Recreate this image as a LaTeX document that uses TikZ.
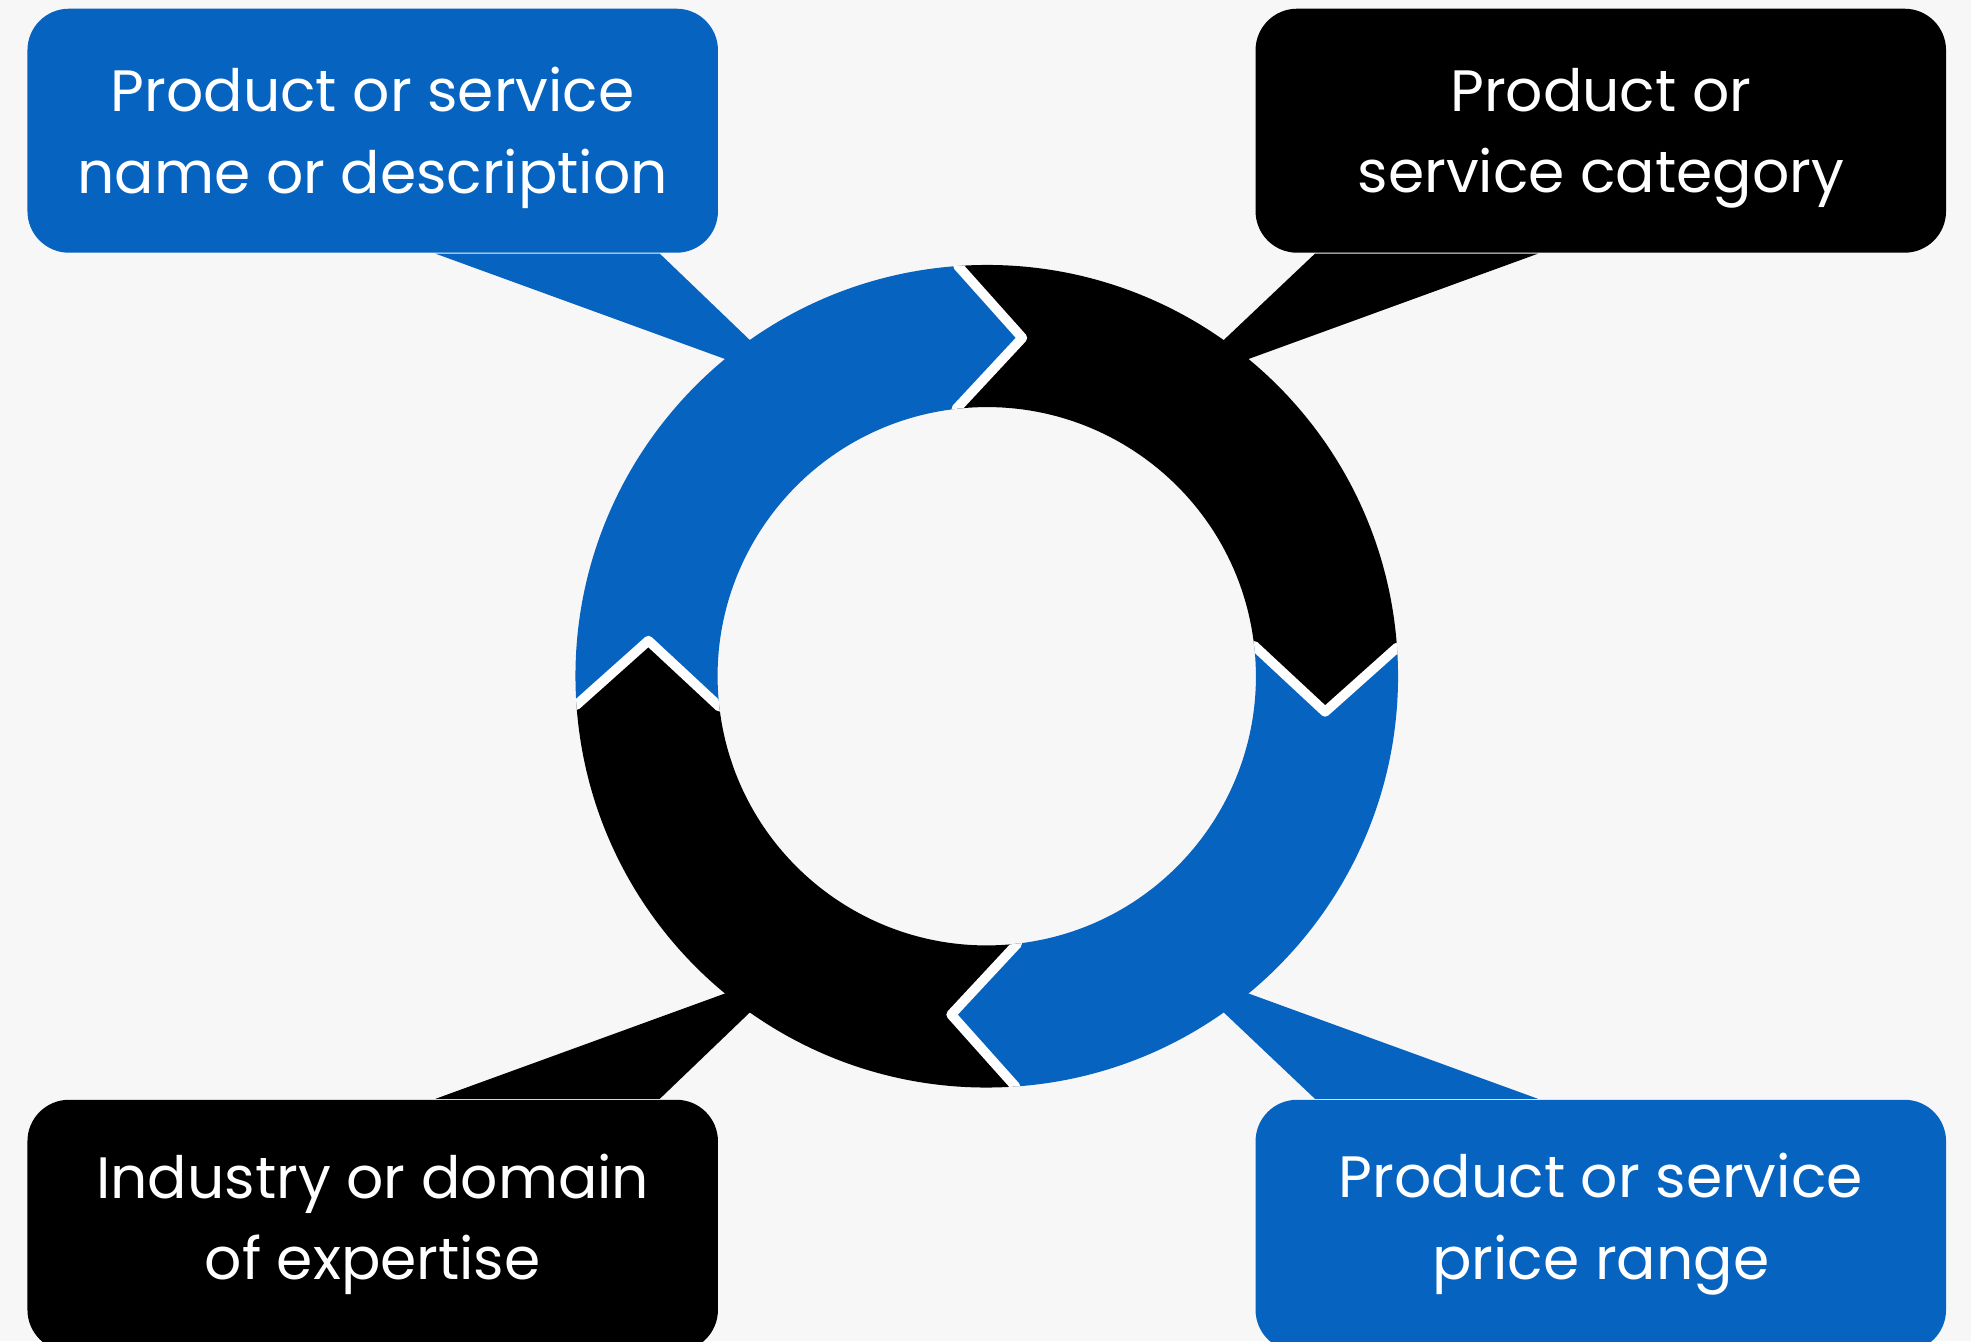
\documentclass[tikz,border=0pt]{standalone}
\usepackage{fontspec}
\setmainfont{Poppins}
\usepackage{tikz}
\usetikzlibrary{positioning}
\definecolor{cycblue}{RGB}{7,99,192}
\definecolor{cycback}{RGB}{247,247,247}
\newcommand{\outr}{3.27cm}
\newcommand{\inr}{2.14cm}
\newcommand{\midr}{2.705cm}
% one quarter of the ring: colour, tail angle, head angle
\newcommand{\ringseg}[3]{%
  \fill[#1] (#2:\outr) arc[start angle=#2, end angle=#3, radius=\outr]
    -- ({#3-10}:\midr) -- ({#3+2.5}:\inr)
    arc[start angle={#3+2.5}, end angle={#2+2.5}, radius=\inr]
    -- ({#2-10}:\midr) -- cycle;}
% white cut between two quarters
\newcommand{\ringcut}[1]{%
  \draw[white, line width=2.2pt, line join=round]
    (#1:3.4cm) -- (#1:\outr) -- ({#1-10}:\midr) -- ({#1+2.5}:\inr) -- ({#1+2.5}:2cm);}

\begin{document}
\begin{tikzpicture}[x=0.01cm,y=0.01cm]
        \tikzset{callbox/.style = {rectangle, rounded corners=0.33cm, minimum width=5.49cm, inner sep=0pt},
                 bluebox/.style = {callbox, fill=cycblue},
                 blackbox/.style = {callbox, fill=black},
                 boxtext/.style = {text=white, align=center, font=\fontsize{13.2pt}{18.5pt}\selectfont}}
        \fill[cycback] (0,0) rectangle (1568,1067);
        \useasboundingbox (0,0) rectangle (1568,1067);
        %\draw[help lines] (0,0) grid[step=100] (1568,1067);

        \begin{scope}[shift={(785,529)}]
            \ringseg{cycblue}{184}{94}
            \ringseg{black}{94}{4}
            \ringseg{cycblue}{4}{-86}
            \ringseg{black}{274}{184}
            \begin{scope}[even odd rule]
                \clip (0,0) circle (\outr) (0,0) circle (\inr);
                \foreach \a in {4,94,184,274} {\ringcut{\a}}
            \end{scope}
            \coordinate (tla) at (129:3.22cm);
            \coordinate (tlb) at (125:3.22cm);
            \coordinate (tra) at (51:3.22cm);
            \coordinate (trb) at (55:3.22cm);
            \coordinate (bla) at (231:3.22cm);
            \coordinate (blb) at (235:3.22cm);
            \coordinate (bra) at (309:3.22cm);
            \coordinate (brb) at (305:3.22cm);
        \end{scope}

        \node[bluebox, minimum height=1.94cm] (namebox) at (296.5,963) {};
        \node[blackbox, minimum height=1.94cm] (catbox) at (1273.5,963) {};
        \node[blackbox, minimum height=2cm] (indbox) at (296.5,92) {};
        \node[bluebox, minimum height=2cm] (pricebox) at (1273.5,92) {};

        \fill[cycblue] ([xshift=3.25cm]namebox.south west) -- (tla) -- (tlb) -- ([xshift=-0.47cm]namebox.south east) -- cycle;
        \fill[black] ([xshift=-3.25cm]catbox.south east) -- (tra) -- (trb) -- ([xshift=0.48cm]catbox.south west) -- cycle;
        \fill[black] ([xshift=3.25cm]indbox.north west) -- (bla) -- (blb) -- ([xshift=-0.47cm]indbox.north east) -- cycle;
        \fill[cycblue] ([xshift=-3.25cm]pricebox.north east) -- (bra) -- (brb) -- ([xshift=0.48cm]pricebox.north west) -- cycle;

        \node[boxtext] (nametext) at ([yshift=-0.06cm]namebox.center) {Product or service\\name or description};
        \node[boxtext] (cattext) at ([yshift=-0.06cm]catbox.center) {Product or\\service category};
        \node[boxtext] (indtext) at ([yshift=0.01cm]indbox.center) {Industry or domain\\of expertise};
        \node[boxtext] (pricetext) at ([yshift=0.01cm]pricebox.center) {Product or service\\price range};
\end{tikzpicture}
\end{document}
